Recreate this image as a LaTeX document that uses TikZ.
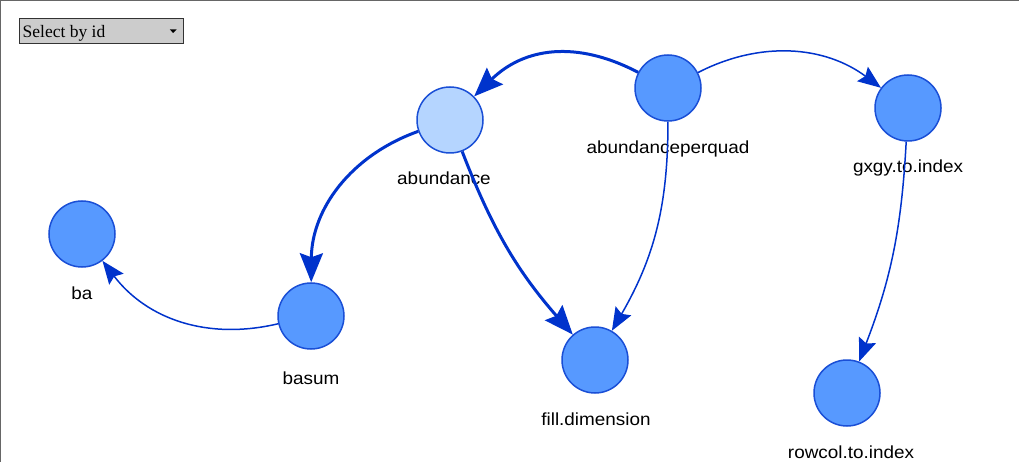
\documentclass[tikz,border=0pt]{standalone}
\usepackage{fontspec}
\setmainfont{Liberation Sans}
\newfontfamily\lblfont[FakeStretch=1.08]{Liberation Sans}
\newfontfamily\selfont{Liberation Serif}
\usetikzlibrary{arrows.meta}
\definecolor{nodefill}{HTML}{5799FF}
\definecolor{nodelight}{HTML}{B5D5FF}
\definecolor{nodeline}{HTML}{1A4FD6}
\definecolor{edgecol}{HTML}{0033CC}
\definecolor{framecol}{HTML}{666666}
\definecolor{ddfill}{HTML}{CCCCCC}
\definecolor{ddline}{HTML}{333333}
\tikzset{
  vnode/.style={circle, minimum size=66pt, inner sep=0pt, draw=nodeline, line width=1.5pt, fill=nodefill},
  vlight/.style={vnode, fill=nodelight},
  lbl/.style={anchor=base, inner sep=0pt, font=\lblfont\fontsize{17.5}{20}\selectfont},
  thickedge/.style={draw=edgecol, line width=3pt, -{Stealth[length=29pt,width=23pt,inset=4pt]}},
  thinedge/.style={draw=edgecol, line width=1.5pt, -{Stealth[length=23pt,width=18pt,inset=3.5pt]}},
}
\begin{document}
\begin{tikzpicture}[x=1pt,y=-1pt]
\useasboundingbox (0,0) rectangle (1019,462);
\fill[white] (0,0) rectangle (1019,462);
\draw[framecol, line width=1.2pt] (0.6,462) -- (0.6,0.6) -- (1019,0.6);
% dropdown
\node[draw=ddline, fill=ddfill, line width=1pt, minimum width=164pt, minimum height=25pt, inner sep=0pt, anchor=north west] (dd) at (18.5,18.5) {};
\node[anchor=base west, inner sep=0pt, font=\selfont\fontsize{17.5}{20}\selectfont] (ddtext) at (22.5,37.5) {Select by id};
\fill[black] (169.8,29.5) -- (176.6,29.5) -- (173.2,33) -- cycle;
% nodes
\node[vnode] (ba) at (82,234) {};
\node[vnode] (bs) at (311,316) {};
\node[vlight] (ab) at (450,120) {};
\node[vnode] (apq) at (668,88) {};
\node[vnode] (gx) at (908,108) {};
\node[vnode] (rc) at (847,393) {};
\node[vnode] (fd) at (595,360) {};
% labels
\node[lbl] (bal) at (82,299) {ba};
\node[lbl] (bsl) at (311,384) {basum};
\node[lbl] (abl) at (444,185) {abundance};
\node[lbl] (apql) at (668,154) {abundanceperquad};
\node[lbl] (gxl) at (908,173) {gxgy.to.index};
\node[lbl] (fdl) at (596,425) {fill.dimension};
\node[lbl] (rcl) at (851,458) {rowcol.to.index};
% edges
\draw[thickedge] (apq) to[bend right=36, looseness=1.08] (ab);
\draw[thinedge] (apq) to[bend left=32, looseness=0.98] (gx);
\draw[thinedge] (apq) to[bend left=15] (fd);
\draw[thickedge] (ab) to[bend right=35] (bs);
\draw[thickedge] (ab) to[bend right=10] (fd);
\draw[thinedge] (bs) to[bend left=33] (ba);
\draw[thinedge] (gx) to[bend left=9] (rc);
\end{tikzpicture}
\end{document}
